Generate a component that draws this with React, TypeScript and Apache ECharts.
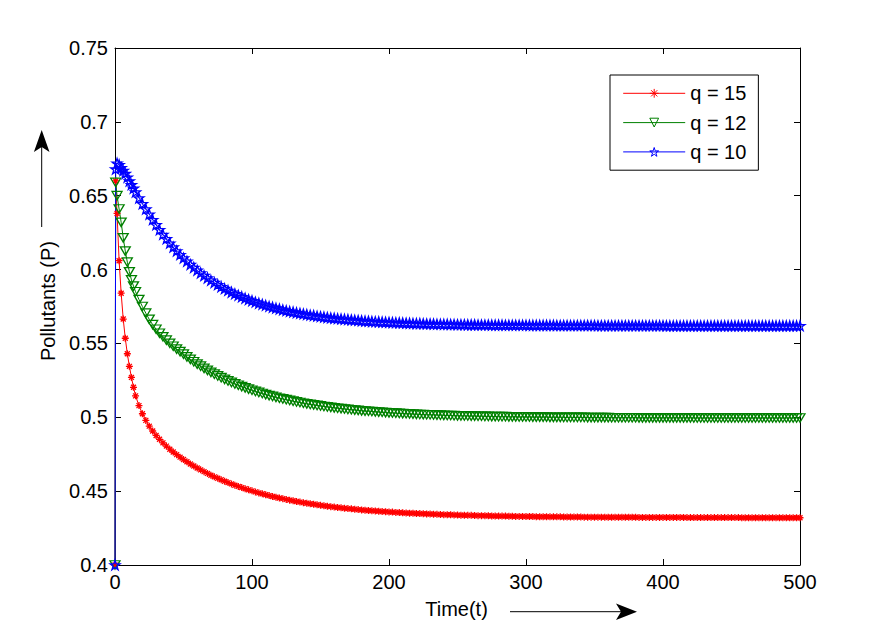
import React, { useEffect, useRef } from "react";
import * as echarts from "echarts";

// Time points (t)
const T = [
  0, 0.5, 1.5, 3, 4.5, 6, 7.5, 9, 10.5, 12, 13.5, 15,
  17.5, 20, 22.5, 25, 27.5, 30, 32.5, 35, 37.5, 40,
  42.5, 45, 47.5, 50, 52.5, 55, 57.5, 60, 62.5, 65,
  67.5, 70, 72.5, 75, 77.5, 80, 82.5, 85, 87.5, 90,
  92.5, 95, 97.5, 100, 102.5, 105, 107.5, 110, 112.5, 115,
  117.5, 120, 122.5, 125, 127.5, 130, 132.5, 135, 137.5, 140,
  142.5, 145, 147.5, 150, 152.5, 155, 157.5, 160, 162.5, 165,
  167.5, 170, 172.5, 175, 177.5, 180, 182.5, 185, 187.5, 190,
  192.5, 195, 197.5, 200, 202.5, 205, 207.5, 210, 212.5, 215,
  217.5, 220, 222.5, 225, 227.5, 230, 232.5, 235, 237.5, 240,
  242.5, 245, 247.5, 250, 252.5, 255, 257.5, 260, 262.5, 265,
  267.5, 270, 272.5, 275, 277.5, 280, 282.5, 285, 287.5, 290,
  292.5, 295, 297.5, 300, 302.5, 305, 307.5, 310, 312.5, 315,
  317.5, 320, 322.5, 325, 327.5, 330, 332.5, 335, 337.5, 340,
  342.5, 345, 347.5, 350, 352.5, 355, 357.5, 360, 362.5, 365,
  367.5, 370, 372.5, 375, 377.5, 380, 382.5, 385, 387.5, 390,
  392.5, 395, 397.5, 400, 402.5, 405, 407.5, 410, 412.5, 415,
  417.5, 420, 422.5, 425, 427.5, 430, 432.5, 435, 437.5, 440,
  442.5, 445, 447.5, 450, 452.5, 455, 457.5, 460, 462.5, 465,
  467.5, 470, 472.5, 475, 477.5, 480, 482.5, 485, 487.5, 490,
  492.5, 495, 497.5, 500,
];

// Pollutants P for q = 15
const Q15 = [
  0.4, 0.66, 0.638, 0.606, 0.584, 0.5665, 0.5535, 0.543, 0.5345, 0.527, 0.5203, 0.5145,
  0.5079, 0.5024, 0.4979, 0.494, 0.4907, 0.4877, 0.4851, 0.4827, 0.4805, 0.4784,
  0.4765, 0.4747, 0.473, 0.4714, 0.4699, 0.4684, 0.467, 0.4657, 0.4644, 0.4632,
  0.462, 0.4608, 0.4597, 0.4587, 0.4577, 0.4567, 0.4558, 0.4549, 0.454, 0.4532,
  0.4524, 0.4516, 0.4509, 0.4502, 0.4495, 0.4488, 0.4482, 0.4476, 0.447, 0.4464,
  0.4459, 0.4454, 0.4449, 0.4444, 0.4439, 0.4435, 0.443, 0.4426, 0.4422, 0.4418,
  0.4415, 0.4411, 0.4408, 0.4404, 0.4401, 0.4398, 0.4395, 0.4392, 0.4389, 0.4387,
  0.4384, 0.4382, 0.438, 0.4377, 0.4375, 0.4373, 0.4371, 0.4369, 0.4367, 0.4366,
  0.4364, 0.4362, 0.4361, 0.4359, 0.4358, 0.4356, 0.4355, 0.4353, 0.4352, 0.4351,
  0.435, 0.4349, 0.4348, 0.4347, 0.4346, 0.4345, 0.4344, 0.4343, 0.4342, 0.4341,
  0.434, 0.434, 0.4339, 0.4338, 0.4337, 0.4337, 0.4336, 0.4336, 0.4335, 0.4334,
  0.4334, 0.4333, 0.4333, 0.4332, 0.4332, 0.4331, 0.4331, 0.4331, 0.433, 0.433,
  0.4329, 0.4329, 0.4329, 0.4328, 0.4328, 0.4328, 0.4327, 0.4327, 0.4327, 0.4327,
  0.4326, 0.4326, 0.4326, 0.4326, 0.4325, 0.4325, 0.4325, 0.4325, 0.4325, 0.4325,
  0.4324, 0.4324, 0.4324, 0.4324, 0.4324, 0.4324, 0.4323, 0.4323, 0.4323, 0.4323,
  0.4323, 0.4323, 0.4323, 0.4323, 0.4323, 0.4323, 0.4322, 0.4322, 0.4322, 0.4322,
  0.4322, 0.4322, 0.4322, 0.4322, 0.4322, 0.4322, 0.4322, 0.4322, 0.4322, 0.4322,
  0.4321, 0.4321, 0.4321, 0.4321, 0.4321, 0.4321, 0.4321, 0.4321, 0.4321, 0.4321,
  0.4321, 0.4321, 0.4321, 0.4321, 0.4321, 0.4321, 0.432, 0.432, 0.432, 0.432,
  0.432, 0.432, 0.432, 0.432, 0.432, 0.432, 0.432, 0.432, 0.432, 0.432,
  0.432, 0.432, 0.432, 0.432,
];

// Pollutants P for q = 12
const Q12 = [
  0.4, 0.659, 0.65, 0.641, 0.632, 0.6215, 0.6125, 0.605, 0.5985, 0.593, 0.5888, 0.585,
  0.5797, 0.575, 0.5705, 0.5663, 0.5627, 0.5596, 0.5569, 0.5545, 0.5522, 0.5501,
  0.5481, 0.5462, 0.5445, 0.5427, 0.5409, 0.5392, 0.5376, 0.536, 0.5346, 0.5331,
  0.5318, 0.5304, 0.5292, 0.528, 0.5268, 0.5257, 0.5246, 0.5236, 0.5226, 0.5217,
  0.5208, 0.5199, 0.5191, 0.5183, 0.5175, 0.5168, 0.5161, 0.5154, 0.5147, 0.5141,
  0.5135, 0.5129, 0.5124, 0.5119, 0.5114, 0.5109, 0.5104, 0.51, 0.5095, 0.5091,
  0.5087, 0.5084, 0.508, 0.5077, 0.5073, 0.507, 0.5067, 0.5064, 0.5061, 0.5059,
  0.5056, 0.5053, 0.5051, 0.5049, 0.5047, 0.5044, 0.5042, 0.5041, 0.5039, 0.5037,
  0.5035, 0.5034, 0.5032, 0.503, 0.5029, 0.5028, 0.5026, 0.5025, 0.5024, 0.5023,
  0.5022, 0.502, 0.5019, 0.5018, 0.5017, 0.5017, 0.5016, 0.5015, 0.5014, 0.5013,
  0.5012, 0.5012, 0.5011, 0.501, 0.501, 0.5009, 0.5009, 0.5008, 0.5008, 0.5007,
  0.5007, 0.5006, 0.5006, 0.5005, 0.5005, 0.5004, 0.5004, 0.5004, 0.5003, 0.5003,
  0.5003, 0.5002, 0.5002, 0.5002, 0.5002, 0.5001, 0.5001, 0.5001, 0.5001, 0.5001,
  0.5, 0.5, 0.5, 0.5, 0.4999, 0.4999, 0.4999, 0.4999, 0.4999, 0.4999,
  0.4999, 0.4998, 0.4998, 0.4998, 0.4998, 0.4998, 0.4998, 0.4998, 0.4997, 0.4997,
  0.4997, 0.4997, 0.4997, 0.4997, 0.4997, 0.4997, 0.4996, 0.4996, 0.4996, 0.4996,
  0.4996, 0.4996, 0.4996, 0.4996, 0.4996, 0.4996, 0.4996, 0.4996, 0.4996, 0.4996,
  0.4996, 0.4996, 0.4995, 0.4995, 0.4995, 0.4995, 0.4995, 0.4995, 0.4995, 0.4995,
  0.4995, 0.4995, 0.4995, 0.4995, 0.4995, 0.4995, 0.4995, 0.4995, 0.4995, 0.4995,
  0.4995, 0.4995, 0.4995, 0.4995, 0.4995, 0.4995, 0.4995, 0.4995, 0.4995, 0.4995,
  0.4995, 0.4995, 0.4995, 0.4995,
];

// Pollutants P for q = 10
const Q10 = [
  0.4, 0.668, 0.672, 0.671, 0.669, 0.667, 0.665, 0.6625, 0.66, 0.6575, 0.655, 0.6525,
  0.6485, 0.6445, 0.641, 0.6375, 0.6338, 0.6303, 0.627, 0.6238, 0.6208, 0.6179,
  0.6152, 0.6126, 0.6101, 0.6078, 0.6056, 0.6034, 0.6014, 0.5995, 0.5977, 0.5959,
  0.5943, 0.5927, 0.5912, 0.5898, 0.5884, 0.5871, 0.5859, 0.5847, 0.5836, 0.5826,
  0.5816, 0.5806, 0.5797, 0.5789, 0.578, 0.5772, 0.5765, 0.5758, 0.5751, 0.5745,
  0.5739, 0.5733, 0.5727, 0.5722, 0.5717, 0.5713, 0.5708, 0.5704, 0.57, 0.5696,
  0.5692, 0.5689, 0.5685, 0.5682, 0.5679, 0.5676, 0.5673, 0.5671, 0.5668, 0.5666,
  0.5664, 0.5662, 0.566, 0.5658, 0.5656, 0.5654, 0.5652, 0.5651, 0.5649, 0.5648,
  0.5647, 0.5645, 0.5644, 0.5643, 0.5642, 0.5641, 0.564, 0.5639, 0.5638, 0.5637,
  0.5636, 0.5635, 0.5635, 0.5634, 0.5633, 0.5633, 0.5632, 0.5631, 0.5631, 0.563,
  0.563, 0.5629, 0.5629, 0.5628, 0.5628, 0.5628, 0.5627, 0.5627, 0.5627, 0.5626,
  0.5626, 0.5626, 0.5626, 0.5625, 0.5625, 0.5625, 0.5625, 0.5624, 0.5624, 0.5624,
  0.5624, 0.5624, 0.5624, 0.5624, 0.5623, 0.5623, 0.5623, 0.5623, 0.5623, 0.5623,
  0.5623, 0.5623, 0.5622, 0.5622, 0.5622, 0.5622, 0.5622, 0.5622, 0.5622, 0.5622,
  0.5622, 0.5622, 0.5622, 0.5622, 0.5621, 0.5621, 0.5621, 0.5621, 0.5621, 0.5621,
  0.5621, 0.5621, 0.5621, 0.5621, 0.5621, 0.5621, 0.5621, 0.5621, 0.5621, 0.5621,
  0.5621, 0.5621, 0.5621, 0.5621, 0.562, 0.562, 0.562, 0.562, 0.562, 0.562,
  0.562, 0.562, 0.562, 0.562, 0.562, 0.562, 0.562, 0.562, 0.562, 0.562,
  0.562, 0.562, 0.562, 0.562, 0.562, 0.562, 0.562, 0.562, 0.562, 0.562,
  0.562, 0.562, 0.562, 0.562, 0.562, 0.562, 0.562, 0.562, 0.562, 0.562,
  0.562, 0.562, 0.562, 0.562,
];

const SERIES_NAMES = ["q = 15", "q = 12", "q = 10"];
const SERIES_COLORS = ["#ff0000", "#008000", "#0000ff"];
const X_MIN = 0;
const X_MAX = 500;
const X_STEP = 100;
const Y_MIN = 0.4;
const Y_MAX = 0.75;
const Y_STEP = 0.05;
const X_TITLE = "Time(t)";
const Y_TITLE = "Pollutants (P)";

const FONT = "'Liberation Sans', Arial, Helvetica, sans-serif";

const ASTERISK = "path://M5,0L5,10M0,5L10,5M1.46,1.46L8.54,8.54M1.46,8.54L8.54,1.46";
const TRI_DOWN = "path://M0,0L10,0L5,8.66Z";
const STAR =
  "path://M0,-1L0.2245,-0.309L0.951,-0.309L0.3633,0.118L0.588,0.809L0,0.382L-0.588,0.809L-0.3633,0.118L-0.951,-0.309L-0.2245,-0.309Z";

export default function App() {
  const ref = useRef<HTMLDivElement>(null);

  useEffect(() => {
    if (!ref.current) return;
    const chart = echarts.init(ref.current, null, { renderer: "svg" });

    const mkX = (position: string, labels: boolean) => ({
      type: "value",
      position,
      min: X_MIN,
      max: X_MAX,
      interval: X_STEP,
      axisLine: { show: true, onZero: false, lineStyle: { color: "#000", width: 1 } },
      axisTick: { show: true, inside: true, length: 6, lineStyle: { color: "#000", width: 1 } },
      axisLabel: { show: labels, color: "#000", fontSize: 20, fontFamily: FONT, margin: 7 },
      splitLine: { show: false },
    });
    const mkY = (position: string, labels: boolean) => ({
      type: "value",
      position,
      min: Y_MIN,
      max: Y_MAX,
      interval: Y_STEP,
      axisLine: { show: true, onZero: false, lineStyle: { color: "#000", width: 1 } },
      axisTick: { show: true, inside: true, length: 6, lineStyle: { color: "#000", width: 1 } },
      axisLabel: { show: labels, color: "#000", fontSize: 20, fontFamily: FONT, margin: 7 },
      splitLine: { show: false },
    });

    const mkSeries = (name: string, vals: number[], color: string, symbol: string, size: any) => ({
      type: "line",
      name,
      data: T.map((t, i) => [t, vals[i]]),
      symbol,
      symbolSize: size,
      showSymbol: true,
      clip: false,
      itemStyle: { color: "none", borderColor: color, borderWidth: 1.3 },
      lineStyle: { color, width: 1 },
      emphasis: { disabled: true },
    });

    chart.setOption({
      animation: false,
      backgroundColor: "#fff",
      grid: { left: 115, top: 48, right: 84, bottom: 71, containLabel: false },
      xAxis: [mkX("bottom", true), mkX("top", false)],
      yAxis: [mkY("left", true), mkY("right", false)],
      legend: {
        orient: "vertical",
        left: 610,
        top: 75,
        padding: [8.3, 12, 8.3, 12.7],
        itemGap: 9.3,
        itemWidth: 62,
        itemHeight: 11,
        borderColor: "#000",
        borderWidth: 1,
        backgroundColor: "#fff",
        selectedMode: false,
        textStyle: { color: "#000", fontSize: 20, lineHeight: 20, fontFamily: FONT },
        data: SERIES_NAMES.map((name, i) => ({
          name,
          itemStyle: { color: "none", borderColor: SERIES_COLORS[i], borderWidth: 1 },
          lineStyle: { color: SERIES_COLORS[i], width: 1 },
        })),
      },
      series: [
        mkSeries(SERIES_NAMES[0], Q15, SERIES_COLORS[0], ASTERISK, 7),
        mkSeries(SERIES_NAMES[1], Q12, SERIES_COLORS[1], TRI_DOWN, [10, 8.5]),
        mkSeries(SERIES_NAMES[2], Q10, SERIES_COLORS[2], STAR, [10, 9.5]),
      ],
      graphic: [
        {
          type: "text",
          x: 48,
          y: 301,
          rotation: Math.PI / 2,
          style: { text: Y_TITLE, fill: "#000", fontSize: 20, fontFamily: FONT, align: "center", verticalAlign: "middle" },
        },
        {
          type: "line",
          shape: { x1: 41.7, y1: 227, x2: 41.7, y2: 147 },
          style: { stroke: "#000", lineWidth: 1 },
        },
        {
          type: "polygon",
          shape: { points: [[41.7, 130], [49.5, 152], [41.7, 147], [33.9, 152]] },
          style: { fill: "#000" },
        },
        {
          type: "text",
          x: 456.5,
          y: 609,
          style: { text: X_TITLE, fill: "#000", fontSize: 20, fontFamily: FONT, align: "center", verticalAlign: "middle" },
        },
        {
          type: "line",
          shape: { x1: 510, y1: 611.7, x2: 622, y2: 611.7 },
          style: { stroke: "#000", lineWidth: 1 },
        },
        {
          type: "polygon",
          shape: { points: [[637, 611.7], [616, 603.5], [621, 611.7], [616, 619.9]] },
          style: { fill: "#000" },
        },
      ],
    });

    return () => chart.dispose();
  }, []);

  return (
    <div
      ref={ref}
      style={{ position: "absolute", left: 0, top: 0, width: 884, height: 636, background: "#fff" }}
    />
  );
}
